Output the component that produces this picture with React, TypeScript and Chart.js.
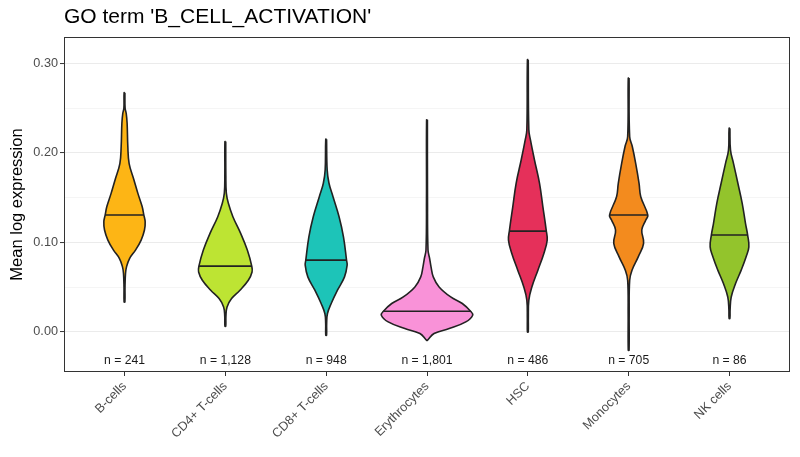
import React, { useEffect, useRef } from "react";
import { Chart, registerables } from "chart.js";

Chart.register(...registerables);

const titleText = "GO term 'B_CELL_ACTIVATION'";
const yAxisTitle = "Mean log expression";
const categories = ["B-cells", "CD4+ T-cells", "CD8+ T-cells", "Erythrocytes", "HSC", "Monocytes", "NK cells"];
const cellCounts = [241, 1128, 948, 1801, 486, 705, 86];
const medians = [0.1305, 0.0735, 0.0802, 0.0232, 0.1126, 0.1305, 0.1082];
const fillColors = ["#FDB515", "#BDE433", "#1DC4B8", "#F992D8", "#E5305A", "#F38B1E", "#93C42C"];
const yTickValues = [0, 0.05, 0.1, 0.15, 0.2, 0.25, 0.3];
const yMin = -0.0447;
const yMax = 0.3293;
const nLabelLevel = -0.0315;

// density profiles: expression levels (top to bottom) and violin half-widths (in category units)
const bCellsY = [0.267, 0.25, 0.244, 0.233, 0.207, 0.188, 0.17, 0.155, 0.14, 0.1305, 0.123, 0.1138, 0.1026, 0.0914, 0.082, 0.0727, 0.0653, 0.05, 0.0336];
const bCellsW = [0.004, 0.006, 0.017, 0.026, 0.033, 0.046, 0.093, 0.132, 0.175, 0.192, 0.205, 0.198, 0.165, 0.109, 0.05, 0.02, 0.01, 0.005, 0.004];
const cd4Y = [0.2125, 0.175, 0.155, 0.1436, 0.1287, 0.11, 0.0914, 0.0735, 0.067, 0.0578, 0.0466, 0.0373, 0.028, 0.018, 0.0064];
const cd4W = [0.004, 0.005, 0.01, 0.03, 0.075, 0.152, 0.218, 0.262, 0.265, 0.228, 0.145, 0.062, 0.017, 0.006, 0.004];
const cd8Y = [0.2152, 0.181, 0.166, 0.151, 0.1287, 0.106, 0.0802, 0.0746, 0.0615, 0.0466, 0.0318, 0.0206, 0.01, -0.0037];
const cd8W = [0.004, 0.01, 0.028, 0.068, 0.128, 0.172, 0.202, 0.208, 0.182, 0.112, 0.05, 0.013, 0.005, 0.004];
const eryY = [0.2368, 0.15, 0.0914, 0.082, 0.0727, 0.0615, 0.0503, 0.0391, 0.0318, 0.0232, 0.0187, 0.0112, 0.0038, -0.0018, -0.0093];
const eryW = [0.004, 0.005, 0.01, 0.026, 0.04, 0.062, 0.12, 0.235, 0.35, 0.432, 0.453, 0.385, 0.22, 0.07, 0.004];
const hscY = [0.304, 0.2256, 0.2144, 0.192, 0.166, 0.14, 0.1138, 0.1026, 0.0877, 0.069, 0.0503, 0.0355, 0.015, 0.0];
const hscW = [0.004, 0.01, 0.026, 0.066, 0.116, 0.149, 0.182, 0.192, 0.159, 0.1, 0.04, 0.01, 0.005, 0.004];
const monoY = [0.2834, 0.218, 0.207, 0.188, 0.166, 0.151, 0.1305, 0.125, 0.1138, 0.0989, 0.0839, 0.069, 0.0578, 0.02, -0.0205];
const monoW = [0.004, 0.01, 0.036, 0.07, 0.103, 0.12, 0.19, 0.17, 0.13, 0.148, 0.095, 0.033, 0.01, 0.005, 0.004];
const nkY = [0.2275, 0.203, 0.188, 0.166, 0.1436, 0.121, 0.1082, 0.095, 0.0839, 0.069, 0.054, 0.039, 0.025, 0.015];
const nkW = [0.004, 0.01, 0.04, 0.083, 0.126, 0.159, 0.18, 0.192, 0.165, 0.116, 0.06, 0.017, 0.006, 0.004];

const profileY = [bCellsY, cd4Y, cd8Y, eryY, hscY, monoY, nkY];
const profileW = [bCellsW, cd4W, cd8W, eryW, hscW, monoW, nkW];

const FONT = "'Liberation Sans', Arial, Helvetica, sans-serif";
const OUTLINE = "#222222";

function widthAt(ys: number[], ws: number[], v: number) {
  for (let k = 0; k < ys.length - 1; k++) {
    if (v <= ys[k] && v >= ys[k + 1]) {
      const t = (ys[k] - v) / (ys[k] - ys[k + 1]);
      return ws[k] + t * (ws[k + 1] - ws[k]);
    }
  }
  return 0;
}

function violinOutline(i: number) {
  const ys = profileY[i];
  const ws = profileW[i];
  const right = ys.map((y, k) => ({ x: i + ws[k], y }));
  const left = ys.map((y, k) => ({ x: i - ws[k], y })).reverse();
  return [...right, ...left, right[0]];
}

const nLabelPlugin = {
  id: "nLabels",
  afterDatasetsDraw(chart: any) {
    const { ctx, scales } = chart;
    ctx.save();
    ctx.font = `12.2px ${FONT}`;
    ctx.fillStyle = "#1a1a1a";
    ctx.textAlign = "center";
    ctx.textBaseline = "middle";
    cellCounts.forEach((n, i) => {
      ctx.fillText(`n = ${n.toLocaleString("en-US")}`, scales.x.getPixelForValue(i), scales.y.getPixelForValue(nLabelLevel));
    });
    ctx.restore();
  },
};

const panelBorderPlugin = {
  id: "panelBorder",
  afterDraw(chart: any) {
    const { ctx, chartArea } = chart;
    ctx.save();
    ctx.strokeStyle = "#333333";
    ctx.lineWidth = 1;
    ctx.strokeRect(
      Math.round(chartArea.left) + 0.5,
      Math.round(chartArea.top) + 0.5,
      Math.round(chartArea.right - chartArea.left) - 1,
      Math.round(chartArea.bottom - chartArea.top) - 1
    );
    ctx.restore();
  },
};

const isMajor = (v: number) => Math.abs(v * 10 - Math.round(v * 10)) < 1e-6;

export default function App() {
  const canvasRef = useRef<HTMLCanvasElement | null>(null);

  useEffect(() => {
    if (!canvasRef.current) return;
    const violinSets = categories.map((c, i) => ({
      label: c,
      data: violinOutline(i),
      showLine: true,
      fill: "shape",
      backgroundColor: fillColors[i],
      borderColor: OUTLINE,
      borderWidth: 1.6,
      borderJoinStyle: "round",
      pointRadius: 0,
      tension: 0.4,
      order: 2,
    }));
    const medianSets = categories.map((c, i) => {
      const hw = widthAt(profileY[i], profileW[i], medians[i]);
      return {
        label: c + " median",
        data: [
          { x: i - hw, y: medians[i] },
          { x: i + hw, y: medians[i] },
        ],
        showLine: true,
        fill: false,
        borderColor: OUTLINE,
        borderWidth: 1.6,
        pointRadius: 0,
        order: 1,
      };
    });

    const chart = new Chart(canvasRef.current, {
      type: "scatter",
      data: { datasets: [...violinSets, ...medianSets] as any },
      plugins: [nLabelPlugin, panelBorderPlugin],
      options: {
        animation: false,
        responsive: false,
        maintainAspectRatio: false,
        layout: { padding: { top: 0, right: 10, left: 0, bottom: 0 } },
        plugins: {
          legend: { display: false },
          tooltip: { enabled: false },
          title: {
            display: true,
            text: titleText,
            align: "start",
            fullSize: false,
            color: "#000000",
            font: { family: FONT, size: 21, weight: "normal" },
            padding: { top: 5, bottom: 6.8 },
          },
        },
        scales: {
          x: {
            type: "linear",
            min: -0.6,
            max: 6.6,
            afterBuildTicks: (scale: any) => {
              scale.ticks = categories.map((_, i) => ({ value: i }));
            },
            afterFit: (scale: any) => {
              scale.height = 85;
            },
            ticks: {
              autoSkip: false,
              minRotation: 45,
              maxRotation: 45,
              padding: 3,
              color: "#4D4D4D",
              font: { family: FONT, size: 12.7 },
              callback: (v: any) => categories[Math.round(Number(v))] ?? "",
            },
            grid: {
              drawOnChartArea: false,
              drawTicks: true,
              tickLength: 4,
              tickColor: "#333333",
              tickWidth: 1,
            },
            border: { display: false },
          },
          y: {
            type: "linear",
            min: yMin,
            max: yMax,
            afterBuildTicks: (scale: any) => {
              scale.ticks = yTickValues.map((v) => ({ value: v }));
            },
            afterFit: (scale: any) => {
              scale.width = 64;
            },
            ticks: {
              padding: 2,
              color: "#4D4D4D",
              font: { family: FONT, size: 12.7 },
              callback: (v: any) => (isMajor(Number(v)) ? Number(v).toFixed(2) : ""),
            },
            grid: {
              drawTicks: true,
              tickLength: 4,
              color: (ctx: any) => (isMajor(ctx.tick.value) ? "#EBEBEB" : "#F2F2F2"),
              lineWidth: (ctx: any) => (isMajor(ctx.tick.value) ? 1.1 : 0.8),
              tickColor: (ctx: any) => (isMajor(ctx.tick.value) ? "#333333" : "rgba(0,0,0,0)"),
              tickWidth: 1,
            },
            border: { display: false },
            title: {
              display: true,
              text: yAxisTitle,
              color: "#000000",
              font: { family: FONT, size: 16.5 },
              padding: { top: 8, bottom: 0 },
            },
          },
        },
      } as any,
    });
    return () => chart.destroy();
  }, []);

  return (
    <div style={{ position: "fixed", left: 0, top: 0, width: 800, height: 457, background: "#ffffff" }}>
      <canvas ref={canvasRef} width={800} height={457} style={{ width: 800, height: 457, display: "block" }} />
    </div>
  );
}
